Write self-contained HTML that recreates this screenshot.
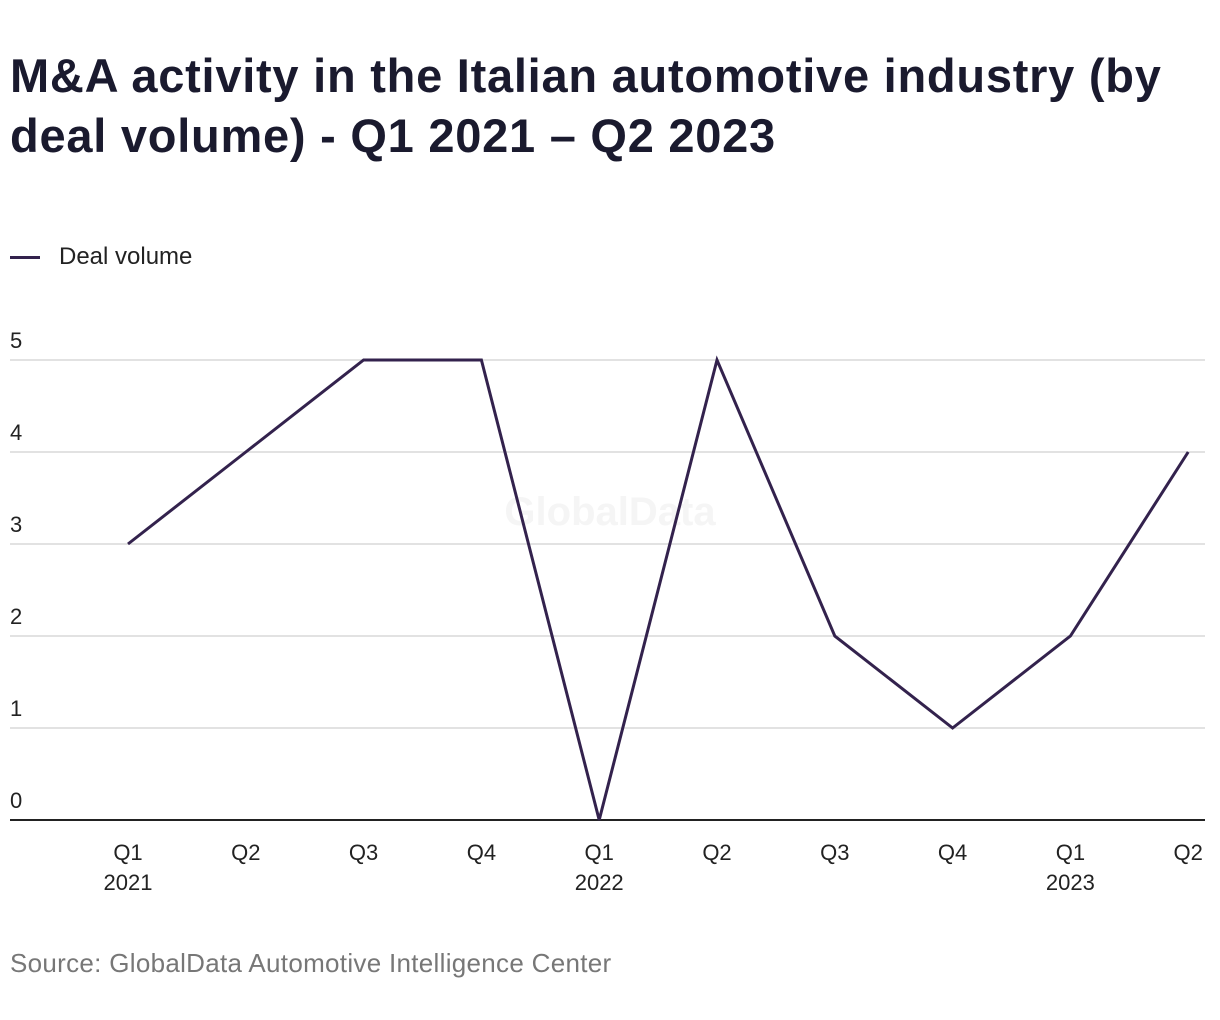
<!DOCTYPE html>
<html><head><meta charset="utf-8"><style>
body{margin:0;background:#fff;width:1220px;height:1020px;overflow:hidden;font-family:"Liberation Sans",sans-serif;}
#title{position:absolute;left:10px;top:46px;width:1210px;font-size:47px;font-weight:bold;line-height:60px;color:#1a1a2e;letter-spacing:0.75px;margin:0;white-space:nowrap;}
#legend{position:absolute;left:10px;top:243px;font-size:24px;color:#222;display:flex;align-items:center;}
#legend span.sw{display:inline-block;width:30px;height:3px;background:#33224d;margin-right:19px;}
#source{position:absolute;left:10px;top:948px;font-size:26px;color:#777;letter-spacing:0.3px;}
svg{position:absolute;left:0;top:0;}
</style></head><body>
<h1 id="title">M&amp;A activity in the Italian automotive industry (by<br>deal volume) - Q1 2021 – Q2 2023</h1>
<div id="legend"><span class="sw"></span><span>Deal volume</span></div>
<svg id="chart" width="1220" height="1020"></svg>
<div id="source">Source: GlobalData Automotive Intelligence Center</div>
<script>
const quarters=["Q1","Q2","Q3","Q4","Q1","Q2","Q3","Q4","Q1","Q2"];
const years=["2021","","","","2022","","","","2023",""];
const dealVolume=[3,4,5,5,0,5,2,1,2,4];
const yTicks=[0,1,2,3,4,5];
const NS="http://www.w3.org/2000/svg";
const svg=document.getElementById('chart');
const x=i=>128+i*117.8;
const y=v=>820-v*92;
function mk(t,a){const e=document.createElementNS(NS,t);for(const k in a)e.setAttribute(k,a[k]);svg.appendChild(e);return e;}
const wm=mk('text',{x:610,y:525,'text-anchor':'middle','font-size':40,'font-weight':'bold',fill:'#f5f5f5'});
wm.textContent='GlobalData';


yTicks.forEach(v=>{
  if(v>0){const g=mk('line',{x1:10,x2:1205,y1:y(v),y2:y(v),stroke:'#d8d8d8','stroke-width':1.5});
  
  }
  const t=mk('text',{x:10,y:y(v)-12,'font-size':22,fill:'#222'});t.textContent=v;
  
  
});
const base=mk('line',{x1:10,x2:1205,y1:820,y2:820,stroke:'#222','stroke-width':2});


quarters.forEach((q,i)=>{
  const t=mk('text',{x:x(i),y:860,'text-anchor':'middle','font-size':22,fill:'#222'});t.textContent=q;
  
  
  if(years[i]){const t2=mk('text',{x:x(i),y:890,'text-anchor':'middle','font-size':22,fill:'#222'});t2.textContent=years[i];
  
  }
});
const pts=dealVolume.map((v,i)=>x(i)+','+y(v)).join(' ');
const line=mk('polyline',{points:pts,fill:'none',stroke:'#33224d','stroke-width':3,'stroke-linejoin':'miter'});


</script>
</body></html>
